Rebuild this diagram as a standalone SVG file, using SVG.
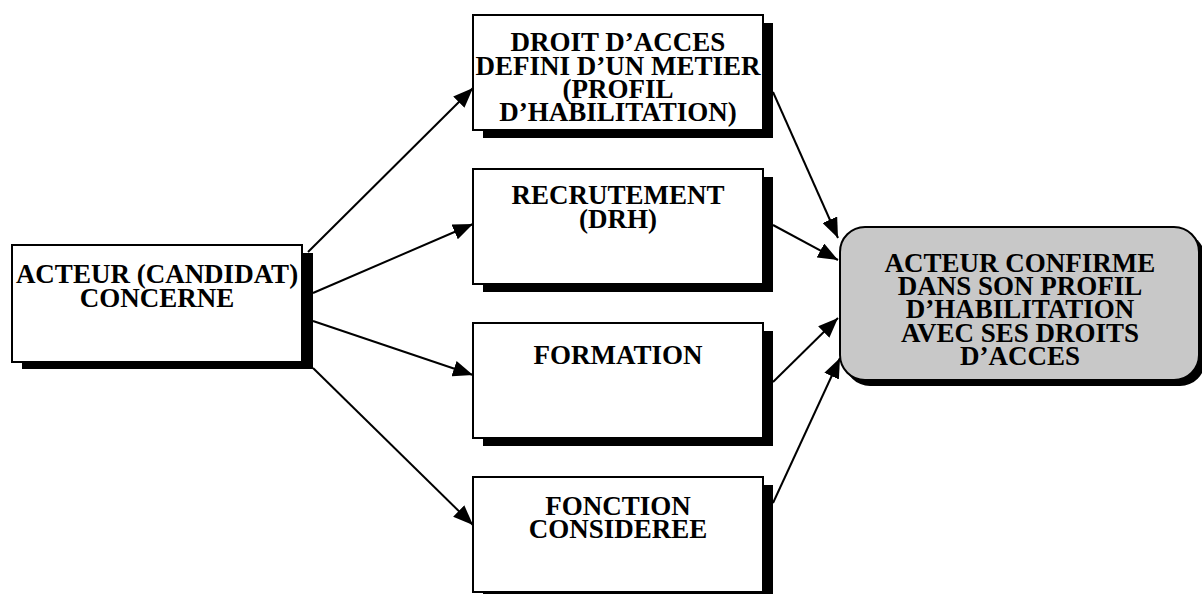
<svg xmlns="http://www.w3.org/2000/svg" width="1202" height="594" viewBox="0 0 1202 594">
<style>
.box{fill:#fff;stroke:#000;stroke-width:2}
.sh{fill:#000}
.t{font-family:"Liberation Serif","Times New Roman",serif;font-weight:bold;font-size:27px;text-anchor:middle;fill:#000}
.c{stroke:#000;stroke-width:2;fill:none;marker-end:url(#ah)}
</style>
<defs>
<marker id="ah" markerUnits="userSpaceOnUse" markerWidth="20" markerHeight="16" viewBox="0 0 20 16" refX="20" refY="8" orient="auto">
<path d="M0,0 L20,8 L0,16 Z" fill="#000"/>
</marker>
</defs>
<rect width="1202" height="594" fill="#fff"/>
<g id="connectors">
<line class="c" x1="308" y1="252" x2="473" y2="88"/>
<line class="c" x1="313" y1="293" x2="473" y2="224"/>
<line class="c" x1="313" y1="321" x2="473" y2="375"/>
<line class="c" x1="313" y1="368" x2="473" y2="525"/>
<line class="c" x1="773" y1="92" x2="838" y2="238"/>
<line class="c" x1="773" y1="225" x2="838" y2="260"/>
<line class="c" x1="773" y1="382" x2="838" y2="318"/>
<line class="c" x1="773" y1="503" x2="840" y2="358"/>
</g>
<g id="acteur">
<rect class="sh" x="22" y="253" width="291" height="116"/>
<rect class="box" x="12" y="245" width="290" height="117"/>
<text class="t" x="157" y="283">ACTEUR (CANDIDAT)</text>
<text class="t" x="157" y="307">CONCERNE</text>
</g>
<g id="droit">
<rect class="sh" x="483" y="23" width="290" height="115"/>
<rect class="box" x="473" y="15" width="290" height="115"/>
<text class="t" x="618" y="51">DROIT D’ACCES</text>
<text class="t" x="618" y="74.5">DEFINI D’UN METIER</text>
<text class="t" x="618" y="98">(PROFIL</text>
<text class="t" x="618" y="121">D’HABILITATION)</text>
</g>
<g id="recrutement">
<rect class="sh" x="483" y="177" width="290" height="115"/>
<rect class="box" x="473" y="169" width="290" height="115"/>
<text class="t" x="618" y="204">RECRUTEMENT</text>
<text class="t" x="618" y="228">(DRH)</text>
</g>
<g id="formation">
<rect class="sh" x="483" y="331" width="290" height="115"/>
<rect class="box" x="473" y="323" width="290" height="115"/>
<text class="t" x="618" y="364">FORMATION</text>
</g>
<g id="fonction">
<rect class="sh" x="483" y="485" width="290" height="115"/>
<rect class="box" x="473" y="477" width="290" height="115"/>
<text class="t" x="618" y="515">FONCTION</text>
<text class="t" x="618" y="538">CONSIDEREE</text>
</g>
<g id="resultat">
<rect class="sh" x="845" y="233" width="360" height="153" rx="25" ry="25"/>
<rect x="840" y="227" width="359" height="153" rx="25" ry="25" fill="#c8c8c8" stroke="#000" stroke-width="2"/>
<text class="t" x="1020" y="272">ACTEUR CONFIRME</text>
<text class="t" x="1020" y="295">DANS SON PROFIL</text>
<text class="t" x="1020" y="318">D’HABILITATION</text>
<text class="t" x="1020" y="342">AVEC SES DROITS</text>
<text class="t" x="1020" y="365">D’ACCES</text>
</g>
</svg>
